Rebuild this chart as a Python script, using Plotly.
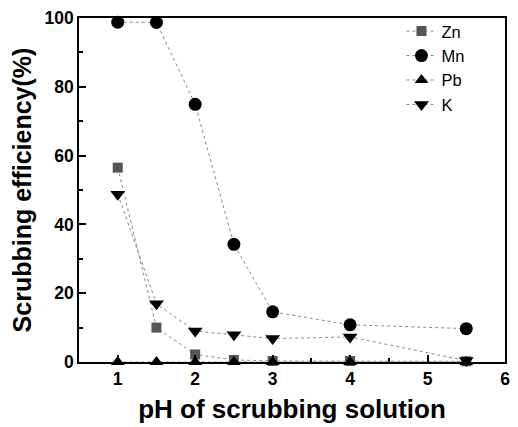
import plotly.graph_objects as go

ph = [1, 1.5, 2, 2.5, 3, 4, 5.5]
zn = [56.5, 10.0, 2.2, 0.6, 0.3, 0.3, 0.2]
mn = [98.8, 98.7, 74.9, 34.2, 14.6, 10.8, 9.7]
pb = [0.0, 0.0, 0.0, 0.0, 0.0, 0.0, 0.0]
k = [48.8, 16.9, 9.0, 7.9, 6.8, 7.3, 0.4]

x_ticks = [1, 2, 3, 4, 5, 6]
y_ticks = [0, 20, 40, 60, 80, 100]

fig = go.Figure()
series = [
    ("Zn", zn, "square", 10, "#555555"),
    ("Mn", mn, "circle", 13, "black"),
    ("Pb", pb, "triangle-up", 12, "black"),
    ("K", k, "triangle-down", 13, "black"),
]
for name, vals, sym, sz, col in series:
    fig.add_trace(go.Scatter(
        x=ph, y=vals, name=name, mode="lines+markers",
        line=dict(color="#8a8a8a", width=1, dash="dot"),
        marker=dict(symbol=sym, size=sz, color=col, line=dict(width=0)),
        cliponaxis=False,
    ))

axis_common = dict(
    showline=True, linecolor="black", linewidth=1.5, mirror=True,
    ticks="inside", ticklen=7, tickwidth=1.5, tickcolor="black",
    showgrid=False, zeroline=False,
    tickfont=dict(family="Liberation Sans", size=17.5, color="black", weight="bold"),
)

fig.update_layout(
    width=518, height=427,
    margin=dict(l=79, r=8, t=17, b=64),
    paper_bgcolor="white", plot_bgcolor="white",
    showlegend=True,
    legend=dict(
        x=0.757, y=1.012, xanchor="left", yanchor="top",
        font=dict(family="Liberation Sans", size=16.5, color="black"),
        bgcolor="rgba(0,0,0,0)", tracegroupgap=0, itemsizing="trace",
    ),
    xaxis=dict(
        range=[0.5, 6], tickvals=x_ticks,
        minor=dict(ticks="inside", ticklen=4, tickwidth=1.5, tickcolor="black", dtick=0.5),
        title=dict(text="pH of scrubbing solution", standoff=12,
                   font=dict(family="Liberation Sans", size=26, color="black", weight="bold")),
        **axis_common,
    ),
    yaxis=dict(
        range=[0, 100], tickvals=y_ticks,
        minor=dict(ticks="inside", ticklen=4, tickwidth=1.5, tickcolor="black", dtick=10),
        title=dict(text="Scrubbing efficiency(%)", standoff=6,
                   font=dict(family="Liberation Sans", size=25, color="black", weight="bold")),
        **axis_common,
    ),
)

fig.write_html("out.html")
